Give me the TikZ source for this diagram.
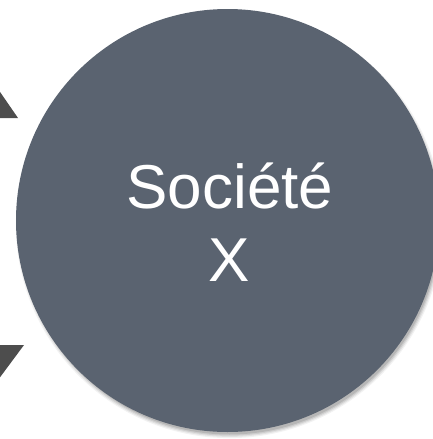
\documentclass[tikz,border=0pt]{standalone}
\usepackage{fontspec}
\setmainfont{Liberation Sans}
\definecolor{circfill}{HTML}{5A6370}
\definecolor{triflll}{HTML}{4D4D4D}
\begin{document}
\begin{tikzpicture}[x=1pt,y=-1pt,
  tri/.style={fill=triflll,draw=none},
  bigtext/.style={text=white,font=\fontsize{62}{73}\selectfont,anchor=base,inner sep=0pt}]
\useasboundingbox (0,0) rectangle (433,439);
% soft shadow, offset down-right
\foreach \k/\o in {3/0.05,2/0.07,1/0.09,0/0.11}{
  \fill[black,opacity=\o] (229.5,224.5) circle ({210+\k*1.2});
}
\fill[circfill] (227.5,220.5) circle (211.5);
\coordinate (c) at (227.5,220.5);
\node[bigtext] (soc) at (230,208) {Société};
\node[bigtext] (x) at (229.5,281) {X};
\fill[tri] (-2,89) -- (18,118) -- (-2,118) -- cycle;
\fill[tri] (-2,345) -- (24,345) -- (-2,380) -- cycle;
\end{tikzpicture}
\end{document}
